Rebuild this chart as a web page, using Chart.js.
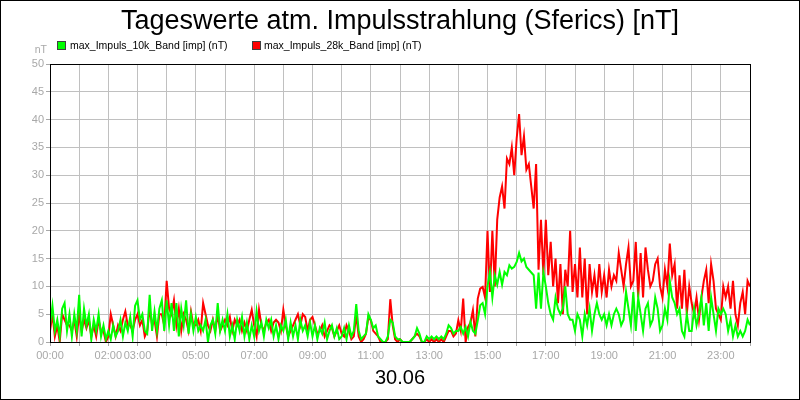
<!DOCTYPE html>
<html>
<head>
<meta charset="utf-8">
<script src="https://cdn.jsdelivr.net/npm/chart.js@4/dist/chart.umd.min.js"></script>
<style>
  body { margin: 0; background: #fff; }
  #rahmen { position: relative; width: 800px; height: 400px; font-family: "Liberation Sans", Arial, sans-serif; }
  #rand { position: absolute; left: 0; top: 0; width: 800px; height: 400px; box-sizing: border-box; border: 1px solid #000; pointer-events: none; }
  canvas { position: absolute; left: 0; top: 0; }
  #titel { position: absolute; left: 0; top: 7px; width: 800px; text-align: center; font-size: 27px; line-height: 27px; color: #000; }
  #datum { position: absolute; left: 0; top: 367px; width: 800px; text-align: center; font-size: 20px; line-height: 20px; color: #000; }
  #einheit { position: absolute; left: 20px; top: 43px; width: 27px; text-align: right; font-size: 10.5px; line-height: 12px; color: #a8a8a8; }
  .leg { position: absolute; top: 39px; font-size: 10.5px; line-height: 12px; color: #000; white-space: nowrap; }
  .box { position: absolute; top: 41px; width: 7px; height: 7px; border: 1px solid #404040; }
</style>
</head>
<body>
<div id="rahmen">
  <canvas id="meinGrafik" width="800" height="400"></canvas>
  <div id="titel">Tageswerte atm. Impulsstrahlung (Sferics) [nT]</div>
  <div class="box" style="left:57px;background:#00ff00"></div>
  <div class="leg" style="left:70px">max_Impuls_10k_Band [imp] (nT)</div>
  <div class="box" style="left:252px;background:#ff0000"></div>
  <div class="leg" style="left:264px">max_Impuls_28k_Band [imp] (nT)</div>
  <div id="einheit">nT</div>
  <div id="datum">30.06</div>
  <div id="rand"></div>
</div>
<script>
// 5-Minuten-Werte, 00:00 bis 24:00
const band10k = [
  3, 6.5, 2, 4, 1, 6, 7, 2, 5, 1, 5, 2,
  8.5, 1, 6, 3, 5, 0.5, 4, 2, 5, 1, 3, 0.5,
  2, 0.5, 3, 1, 2, 4, 1, 3.5, 2, 4.5, 1, 6.5,
  7.5, 4, 5, 2, 1.5, 8.5, 2, 5.5, 2, 6, 7.5, 2,
  7.5, 3, 7, 2, 7, 1, 6, 3, 7.5, 1.5, 5, 2,
  4.5, 2, 3, 2, 4, 0, 3, 4, 1.5, 7, 2, 4,
  2, 5, 1, 3, 0.5, 4, 2, 4.5, 1, 3.5, 0.5, 3,
  1, 5.5, 2, 3.5, 1, 4, 2.5, 4, 1, 3, 0.5, 3,
  2, 4, 0.5, 3.5, 1, 3, 0.5, 4, 2, 3, 1, 3.5,
  1, 3, 0.5, 2.5, 1.5, 3.5, 0.5, 2, 3, 1, 2.5, 0.5,
  1, 2.5, 0.5, 3, 1, 2, 6.8, 2, 0.5, 1, 1.5, 5,
  4, 2.5, 3, 1, 0.5, 0, 0, 1, 4, 3.5, 1, 0.5,
  0.5, 0, 0, 0, 0, 0.5, 1, 2.5, 1.5, 0, 0, 1,
  0.5, 1, 0.5, 1, 0.5, 1, 0.5, 1.5, 3, 2.5, 1.5, 2,
  2, 2.7, 1.5, 2.7, 1, 3.6, 2, 1.5, 3.9, 6.6, 7, 5,
  10, 12.6, 8, 12, 10.3, 12.6, 10.3, 12.6, 12, 13.8, 13.2, 13.5,
  14.4, 16, 14.5, 15, 13.5, 13, 12.5, 12, 6, 12.5, 6, 12.5,
  10, 7, 5, 4, 8, 6, 5, 6, 10, 5, 4, 4,
  2, 5, 4, 1, 5, 3, 6, 2, 5, 7, 5, 4,
  5, 3, 5, 3, 5, 6, 5, 3, 4, 9, 6, 3,
  9, 2, 8, 5, 2, 6, 7, 3, 4, 8, 6, 2,
  3, 6, 4, 11, 8, 7, 5, 6, 2, 1, 5, 2,
  2, 6, 3, 5, 8, 3, 7, 2, 8, 5, 2, 6,
  5, 6, 5, 2, 4, 1, 3, 1, 2, 1, 2, 4,
  3
];

const band28k = [
  2, 5, 1, 3, 0, 5, 4, 3, 3, 2, 4, 1,
  5, 2, 4, 2.5, 4, 1, 3, 1, 4, 2, 2, 0,
  1, 5, 3, 1, 3, 2, 4, 5.5, 3, 3, 2, 4,
  5, 3, 4, 1, 2, 6, 3, 4, 1, 5, 5, 3,
  11, 6, 5, 7.5, 3, 6, 2, 5, 4, 2, 5.5, 3,
  3, 4, 2, 7, 5, 3, 2, 4, 2, 5, 2, 3,
  4, 3, 4.5, 2, 4, 3, 4, 2, 3.5, 2, 4, 5.8,
  3, 1, 5.8, 3, 2, 3.5, 4, 2, 3.5, 4, 3.5, 2,
  5.8, 3, 1, 2, 3, 4, 5, 3, 5, 4.5, 2, 4,
  4.5, 3, 1.5, 2, 3, 1, 2, 3, 2.5, 1, 2, 3,
  1.5, 1, 3, 2, 0.5, 1, 5, 1, 0, 0.5, 1.5, 4.5,
  3.9, 2, 1.5, 1, 0, 0, 0, 0.5, 7.7, 3, 0.5, 0,
  0.5, 0, 0, 0, 0, 0.5, 1, 1.5, 1, 0, 0, 0.5,
  0, 0.5, 0, 0.5, 0, 0.5, 0, 1, 2, 2, 1, 1.5,
  3.9, 2, 7.8, 0, 2.7, 3.5, 5.7, 1, 7.8, 9.6, 9.9, 8,
  20, 9, 20, 10, 22, 26, 28, 24, 33, 32, 35, 30,
  36.6, 41, 33.6, 37, 31, 32, 28, 24, 32, 13, 22, 12,
  22, 12, 18, 10, 15, 7, 14, 5, 13, 10, 20, 9,
  14, 8, 17, 8, 15, 5, 14, 9, 12, 8, 14, 9,
  12, 8, 13, 10, 12, 11, 16, 13, 10, 14, 17, 10,
  11, 18, 8, 16, 8, 17, 13, 10, 11, 14, 15, 10,
  8, 13, 10, 17.7, 12, 14, 6, 12, 6, 13, 5, 10,
  7, 5, 8, 4, 8, 11, 13, 7, 14, 11, 6, 5,
  4, 10, 8, 10, 6, 11, 5, 3, 7, 9, 5, 11,
  10
];

// beschriftete Stunden auf der x-Achse
const stundenLabels = ["00:00", "", "02:00", "03:00", "", "05:00", "", "07:00", "", "09:00", "", "11:00", "",
  "13:00", "", "15:00", "", "17:00", "", "19:00", "", "21:00", "", "23:00", ""];

const yTicks = [0, 5, 10, 15, 20, 25, 30, 35, 40, 45, 50];

function zuPunkten(werte) {
  return werte.map((v, i) => ({ x: i / 12, y: v }));
}

const rahmenPlugin = {
  id: "plotRahmen",
  afterDatasetsDraw(chart) {
    const a = chart.chartArea;
    const ctx = chart.ctx;
    ctx.save();
    ctx.strokeStyle = "#000";
    ctx.lineWidth = 1;
    ctx.strokeRect(Math.round(a.left) + 0.5, Math.round(a.top) + 0.5, Math.round(a.right - a.left), Math.round(a.bottom - a.top));
    ctx.restore();
  }
};

const ctx = document.getElementById("meinGrafik").getContext("2d");
new Chart(ctx, {
  type: "line",
  data: {
    datasets: [{
      label: "max_Impuls_10k_Band [imp] (nT)",
      data: zuPunkten(band10k),
      borderColor: "#00ff00",
      borderWidth: 2,
      pointRadius: 0,
      tension: 0
    }, {
      label: "max_Impuls_28k_Band [imp] (nT)",
      data: zuPunkten(band28k),
      borderColor: "#ff0000",
      borderWidth: 2,
      pointRadius: 0,
      tension: 0
    }]
  },
  options: {
    responsive: false,
    animation: false,
    devicePixelRatio: 1,
    layout: { padding: { top: 64, right: 50, bottom: 0, left: 0 } },
    plugins: {
      legend: { display: false },
      title: { display: false },
      tooltip: { enabled: false }
    },
    scales: {
      x: {
        type: "linear",
        min: 0,
        max: 24,
        afterFit: (s) => { s.height = 58; },
        afterBuildTicks: (s) => { s.ticks = stundenLabels.map((t, i) => ({ value: i })); },
        grid: { color: "#c0c0c0", lineWidth: 1, tickLength: 4, tickColor: "#a8a8a8" },
        border: { display: false },
        ticks: {
          autoSkip: false,
          maxRotation: 0,
          padding: 3,
          color: "#a8a8a8",
          font: { family: "'Liberation Sans', Arial, sans-serif", size: 11 },
          callback: (v) => stundenLabels[v] || ""
        }
      },
      y: {
        min: 0,
        max: 50,
        afterFit: (s) => { s.width = 50; },
        afterBuildTicks: (s) => { s.ticks = yTicks.map((v) => ({ value: v })); },
        grid: { color: "#c0c0c0", lineWidth: 1, tickLength: 4, tickColor: "#a8a8a8" },
        border: { display: false },
        ticks: {
          padding: 2,
          color: "#a8a8a8",
          font: { family: "'Liberation Sans', Arial, sans-serif", size: 11 }
        }
      }
    }
  },
  plugins: [rahmenPlugin]
});
</script>
</body>
</html>
